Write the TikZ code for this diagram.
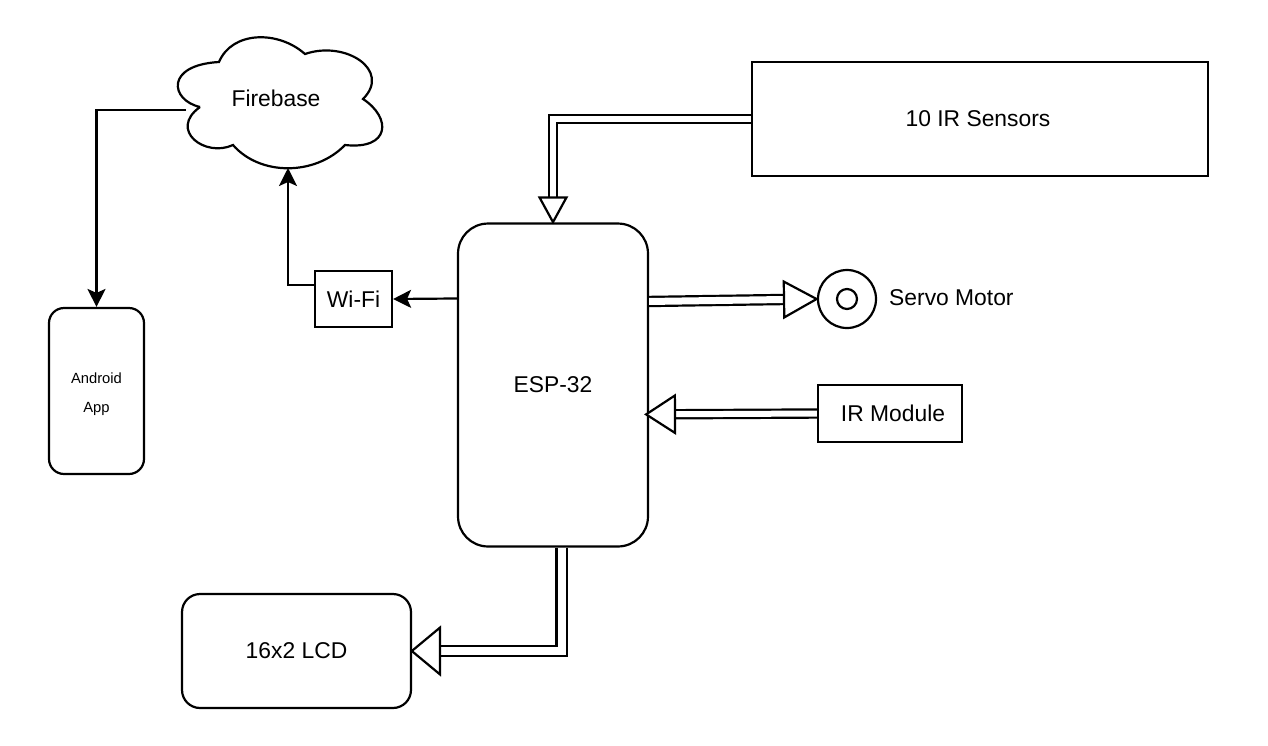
\documentclass[tikz,border=0pt]{standalone}
\usepackage{fontspec}
\setmainfont{Liberation Sans}
\usetikzlibrary{arrows.meta}
\tikzset{
	box/.style={draw,line width=1.25pt,inner sep=0pt,font=\fontsize{13}{15}\selectfont},
	arrow/.style={line width=1.25pt,-{Stealth[length=0.36cm,width=0.36cm,inset=0.08cm]}},
	bus/.style n args={2}{draw,line width=1.25pt,double,double distance=0.12cm,shorten >=-0.04cm,
		-{Triangle[open,fill=white,line width=1.25pt,length=#1,width=#2]}},
}
\begin{document}
\begin{tikzpicture}[x=0.02cm,y=-0.02cm]
	\useasboundingbox (0,0) rectangle (1268,745);

	% cloud
	\draw[line width=1.25pt,fill=white] (200,107)
		.. controls (170,100) and (165,65) .. (219,62)
		.. controls (232,31) and (278,30) .. (305,54)
		.. controls (345,40) and (392,70) .. (363,99)
		.. controls (392,118) and (390,150) .. (345,145)
		.. controls (315,176) and (260,176) .. (233,145)
		.. controls (205,158) and (168,130) .. (200,107);
	\node (firebase) at (276,98) {\fontsize{13}{15}\selectfont Firebase};
	\coordinate (cloudleft) at (186,110);
	\coordinate (cloudbottom) at (288,168);

	\node[box,minimum width=9.12cm,minimum height=2.28cm] (sensors) at (980,119) {10 IR Sensors\hspace*{0.08cm}};
	\node[box,rounded corners=0.6cm,minimum width=3.8cm,minimum height=6.46cm] (esp) at (553,385) {ESP-32};
	\node[box,minimum width=1.54cm,minimum height=1.12cm] (wifi) at (353.5,299) {Wi-Fi};
	\node[box,rounded corners=0.3cm,minimum width=1.9cm,minimum height=3.32cm] (android) at (96.5,391) {};
	\node[align=center,font=\fontsize{8.4}{16.5}\selectfont] (androidtext) at (96.5,394) {Android\\App};
	\node[box,minimum width=2.88cm,minimum height=1.14cm] (irmodule) at (890,413.5) {\hspace*{0.12cm}IR Module};
	\node[box,rounded corners=0.36cm,minimum width=4.58cm,minimum height=2.28cm] (lcd) at (296.5,651) {16x2 LCD};

	\node[box,circle,minimum size=1.16cm] (servo) at (847,299) {};
	\node[box,circle,minimum size=0.4cm] (servoin) at (847,299) {};
	\node[anchor=west,font=\fontsize{13}{15}\selectfont] (servolabel) at (883,298) {Servo Motor};

	\draw[arrow] (cloudleft) -| (android.north);
	\draw[arrow] (wifi.160) -| (cloudbottom);
	\draw[arrow] (esp.138.2) -- (wifi.east);

	\draw[bus={0.56cm}{0.6cm}] (sensors.west) -| (esp.north);
	\draw[bus={0.72cm}{0.78cm},double distance=0.14cm] (esp.41.8) -- (servo.west);
	\draw[bus={0.64cm}{0.82cm},shorten >=-0.1cm] (irmodule.west) -- (esp.-17.5);
	\draw[bus={0.62cm}{1.02cm},double distance=0.16cm] (esp.-87.2) |- (lcd.east);
\end{tikzpicture}
\end{document}
